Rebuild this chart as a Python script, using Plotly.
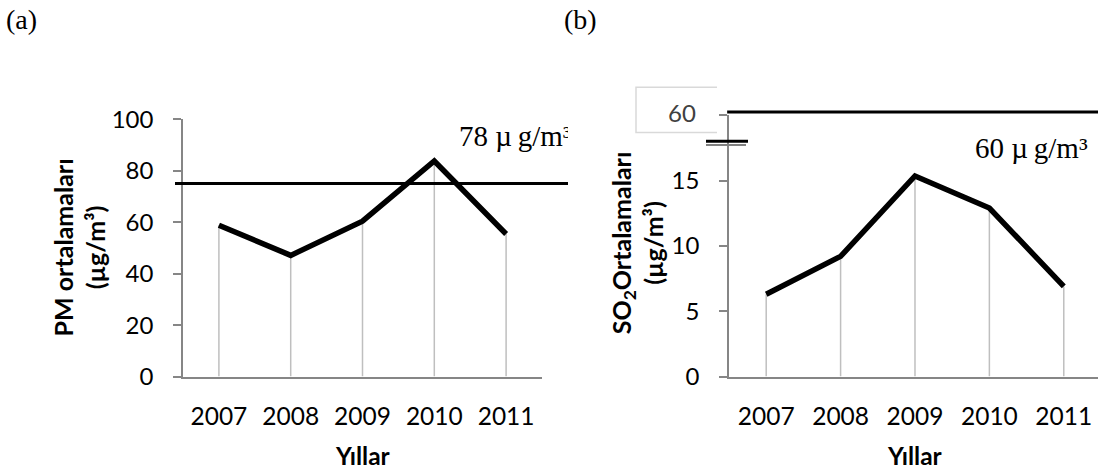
import plotly.graph_objects as go

# ---- data ----
years = ["2007", "2008", "2009", "2010", "2011"]
pm_values = [58.8, 47.1, 60.4, 83.8, 55.4]
so2_values = [6.3, 9.2, 15.35, 12.9, 6.9]
pm_limit = 75
pm_limit_label = "78 µ\u2009g/m³"
so2_limit_label = "60 µ\u2009g/m³"
so2_break_label = "60"
pm_ticks = [0, 20, 40, 60, 80, 100]
so2_ticks = [0, 5, 10, 15, 20]
so2_ticktext = ["0", "5", "10", "15", " "]

W, H = 1098, 475
def px(x):
    return x / W
def py(y):
    return (H - y) / H

SANS = "Lato"
SERIF = "Liberation Serif"
AXIS_COL = "#868686"
DROP_COL = "#bfbfbf"

fig = go.Figure()

def drops(vals):
    xs, ys = [], []
    for c, v in zip(years, vals):
        xs += [c, c, None]
        ys += [0, v, None]
    return xs, ys

# left panel
dx, dy = drops(pm_values)
fig.add_trace(go.Scatter(x=dx, y=dy, mode="lines", line=dict(color=DROP_COL, width=1.5),
                         xaxis="x", yaxis="y", hoverinfo="skip", showlegend=False))
fig.add_trace(go.Scatter(x=years, y=pm_values, mode="lines", line=dict(color="black", width=5.5),
                         xaxis="x", yaxis="y", showlegend=False))
# limit line + clipped label on overlay axis
fig.add_trace(go.Scatter(x=[0, 1], y=[pm_limit, pm_limit], mode="lines",
                         line=dict(color="black", width=3), xaxis="x3", yaxis="y3",
                         showlegend=False, cliponaxis=True))
fig.add_trace(go.Scatter(x=[0.7226], y=[92.5], mode="text", text=[pm_limit_label],
                         textposition="middle right",
                         textfont=dict(family=SERIF, size=29, color="black"),
                         xaxis="x3", yaxis="y3", showlegend=False, cliponaxis=True))

# right panel
dx2, dy2 = drops(so2_values)
fig.add_trace(go.Scatter(x=dx2, y=dy2, mode="lines", line=dict(color=DROP_COL, width=1.5),
                         xaxis="x2", yaxis="y2", hoverinfo="skip", showlegend=False))
fig.add_trace(go.Scatter(x=years, y=so2_values, mode="lines", line=dict(color="black", width=5.5),
                         xaxis="x2", yaxis="y2", showlegend=False))

ydom = [py(384), py(110)]
ydom2 = [py(384), py(105.7)]

common_x = dict(type="category", showline=True, linecolor=AXIS_COL, linewidth=1.5,
                showgrid=False, zeroline=False, ticks="", ticklabelstandoff=17,
                tickfont=dict(family=SANS, size=24.5, color="black"))
common_y = dict(showline=True, linecolor=AXIS_COL, linewidth=1.5, showgrid=False,
                zeroline=False, ticks="outside", ticklen=8, tickcolor=AXIS_COL, tickwidth=1.5,
                ticklabelstandoff=15, tickfont=dict(family=SANS, size=24, color="black"))

fig.update_layout(
    width=W, height=H, margin=dict(l=0, r=0, t=0, b=0),
    paper_bgcolor="white", plot_bgcolor="rgba(0,0,0,0)",
    xaxis=dict(common_x, domain=[px(183), px(542)], range=[-0.5, 4.5], anchor="y"),
    yaxis=dict(common_y, domain=ydom, range=[0, 100], tickvals=pm_ticks, anchor="x"),
    xaxis3=dict(domain=[px(175), px(568)], range=[0, 1], visible=False, anchor="y3"),
    yaxis3=dict(domain=ydom, range=[0, 100], visible=False, anchor="x3", overlaying="y"),
    xaxis2=dict(common_x, domain=[px(729), 1.0], range=[-0.5, 4.46], anchor="y2"),
    yaxis2=dict(common_y, domain=ydom2, range=[0, 20], tickvals=so2_ticks,
                ticktext=so2_ticktext, anchor="x2"),
)

shapes = []
# SO2 limit line just above the broken axis top
shapes.append(dict(type="line", xref="x2 domain", yref="paper", x0=-0.005, x1=1,
                   y0=py(102.3), y1=py(102.3), line=dict(color="black", width=3)))
# "60" box (left, top, bottom borders)
shapes.append(dict(type="path", xref="paper", yref="paper",
                   path=f"M {px(717)},{py(76)} L {px(636)},{py(76)} L {px(636)},{py(124)} L {px(717)},{py(124)}",
                   line=dict(color="#d9d9d9", width=1.5)))
# axis break marks
shapes.append(dict(type="line", xref="paper", yref="paper", x0=px(706), x1=px(748),
                   y0=py(133.5), y1=py(133.5), line=dict(color="black", width=3)))
shapes.append(dict(type="line", xref="paper", yref="paper", x0=px(706), x1=px(746),
                   y0=py(137.5), y1=py(137.5), line=dict(color="#808080", width=2)))
fig.update_layout(shapes=shapes)

ann = []
ann.append(dict(text=so2_break_label, x=px(698), y=py(102.5), xref="paper", yref="paper",
                xanchor="right", yanchor="middle", showarrow=False,
                font=dict(family=SANS, size=24, color="#404040")))
ann.append(dict(text=so2_limit_label, x=px(973), y=py(141), xref="paper", yref="paper",
                xanchor="left", yanchor="middle", showarrow=False,
                font=dict(family=SERIF, size=29, color="black")))
ann.append(dict(text="<b>PM ortalamaları<br>(µg/m³)</b>", x=px(79.5), y=py(247),
                xref="paper", yref="paper", xanchor="center", yanchor="middle",
                textangle=-90, showarrow=False, font=dict(family=SANS, size=25, color="black")))
ann.append(dict(text="<b>SO<sub>2</sub>Ortalamaları<br>(µg/m³)</b>", x=px(637), y=py(242),
                xref="paper", yref="paper", xanchor="center", yanchor="middle",
                textangle=-90, showarrow=False, font=dict(family=SANS, size=25, color="black")))
for cx in (362.5, 915):
    ann.append(dict(text="<b>Yıllar</b>", x=px(cx), y=py(468), xref="paper", yref="paper",
                    xanchor="center", yanchor="middle", showarrow=False,
                    font=dict(family=SANS, size=24.5, color="black")))
ann.append(dict(text="(a)", x=px(4), y=py(4), xref="paper", yref="paper",
                xanchor="left", yanchor="middle", showarrow=False,
                font=dict(family=SERIF, size=28, color="black")))
ann.append(dict(text="(b)", x=px(562), y=py(4), xref="paper", yref="paper",
                xanchor="left", yanchor="middle", showarrow=False,
                font=dict(family=SERIF, size=28, color="black")))
fig.update_layout(annotations=ann)

fig.write_html("out.html")
